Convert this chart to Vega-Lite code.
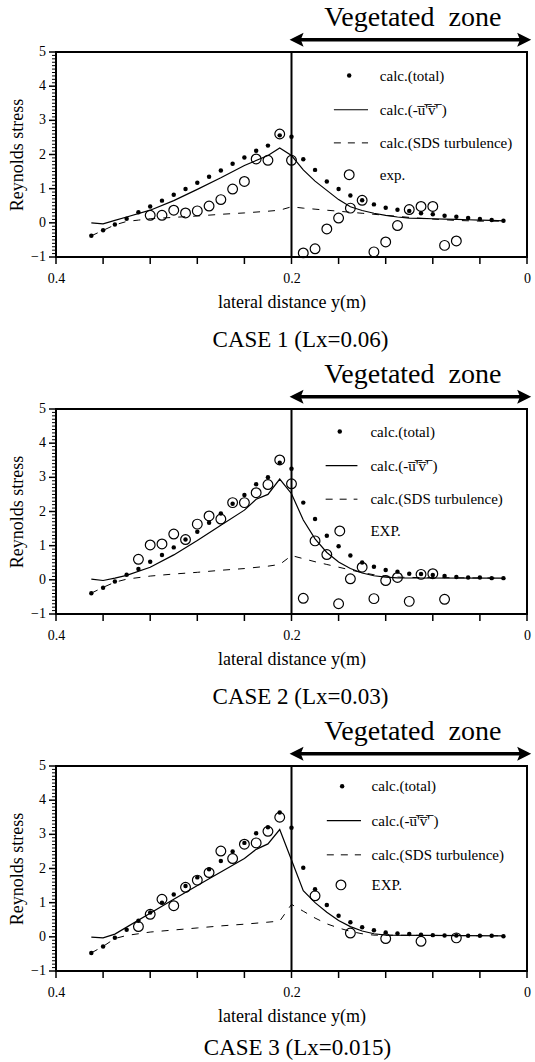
{
  "$schema": "https://vega.github.io/schema/vega-lite/v6.json",
  "padding": {"left": 7, "top": 3, "right": 0, "bottom": 0},
  "spacing": 7,
  "config": {
    "font": "Liberation Serif",
    "view": {"stroke": "black", "strokeWidth": 2},
    "axis": {"domain": false, "grid": false, "ticks": false, "labelFont": "Liberation Serif", "titleFont": "Liberation Serif", "labelColor": "black", "titleColor": "black", "labelFontSize": 14, "titleFontSize": 18, "titleFontWeight": "normal", "labelOverlap": false, "labelFlush": false},
    "title": {"font": "Liberation Serif", "fontSize": 23, "fontWeight": "normal", "color": "black"},
    "text": {"font": "Liberation Serif", "color": "black"}
  },
  "datasets": {
    "vline": [{"dist":0.2,"stress":-1,"stress2":5}],
    "arrow": [{"dist":0.194,"dist2":0.004,"stress":5.36}],
    "heads": [{"dist":0.1957,"stress":5.36,"dir":"left"},{"dist":0.0024,"stress":5.36,"dir":"right"}],
    "zone": [{"dist":0.097,"stress":5.75,"label":"Vegetated\u00a0 zone"}],
    "xticks": [{"dist":0.4,"stress":-1},{"dist":0.36,"stress":-1},{"dist":0.32,"stress":-1},{"dist":0.28,"stress":-1},{"dist":0.24,"stress":-1},{"dist":0.2,"stress":-1},{"dist":0.16,"stress":-1},{"dist":0.12,"stress":-1},{"dist":0.08,"stress":-1},{"dist":0.04,"stress":-1},{"dist":0,"stress":-1}],
    "ymajor": [{"dist":0.4,"stress":-1},{"dist":0.4,"stress":0},{"dist":0.4,"stress":1},{"dist":0.4,"stress":2},{"dist":0.4,"stress":3},{"dist":0.4,"stress":4},{"dist":0.4,"stress":5}],
    "yminor": [{"dist":0.4,"stress":-0.9},{"dist":0.4,"stress":-0.8},{"dist":0.4,"stress":-0.7},{"dist":0.4,"stress":-0.6},{"dist":0.4,"stress":-0.5},{"dist":0.4,"stress":-0.4},{"dist":0.4,"stress":-0.3},{"dist":0.4,"stress":-0.2},{"dist":0.4,"stress":-0.1},{"dist":0.4,"stress":0.1},{"dist":0.4,"stress":0.2},{"dist":0.4,"stress":0.3},{"dist":0.4,"stress":0.4},{"dist":0.4,"stress":0.5},{"dist":0.4,"stress":0.6},{"dist":0.4,"stress":0.7},{"dist":0.4,"stress":0.8},{"dist":0.4,"stress":0.9},{"dist":0.4,"stress":1.1},{"dist":0.4,"stress":1.2},{"dist":0.4,"stress":1.3},{"dist":0.4,"stress":1.4},{"dist":0.4,"stress":1.5},{"dist":0.4,"stress":1.6},{"dist":0.4,"stress":1.7},{"dist":0.4,"stress":1.8},{"dist":0.4,"stress":1.9},{"dist":0.4,"stress":2.1},{"dist":0.4,"stress":2.2},{"dist":0.4,"stress":2.3},{"dist":0.4,"stress":2.4},{"dist":0.4,"stress":2.5},{"dist":0.4,"stress":2.6},{"dist":0.4,"stress":2.7},{"dist":0.4,"stress":2.8},{"dist":0.4,"stress":2.9},{"dist":0.4,"stress":3.1},{"dist":0.4,"stress":3.2},{"dist":0.4,"stress":3.3},{"dist":0.4,"stress":3.4},{"dist":0.4,"stress":3.5},{"dist":0.4,"stress":3.6},{"dist":0.4,"stress":3.7},{"dist":0.4,"stress":3.8},{"dist":0.4,"stress":3.9},{"dist":0.4,"stress":4.1},{"dist":0.4,"stress":4.2},{"dist":0.4,"stress":4.3},{"dist":0.4,"stress":4.4},{"dist":0.4,"stress":4.5},{"dist":0.4,"stress":4.6},{"dist":0.4,"stress":4.7},{"dist":0.4,"stress":4.8},{"dist":0.4,"stress":4.9}],
    "leg1": [{"item":"dot","dist":0.151,"stress":4.31},{"item":"solid","dist":0.164,"dist2":0.135,"stress":3.31},{"item":"dash","dist":0.164,"dist2":0.135,"stress":2.34},{"item":"circ","dist":0.151,"stress":1.41},{"item":"text","dist":0.125,"stress":4.31,"label":"calc.(total)"},{"item":"text","dist":0.125,"stress":3.31,"label":"calc.(-u\u0305'\u0305v\u0305'\u0305 )"},{"item":"text","dist":0.125,"stress":2.34,"label":"calc.(SDS turbulence)"},{"item":"text","dist":0.125,"stress":1.41,"label":"exp."}],
    "leg2": [{"item":"dot","dist":0.159,"stress":4.34},{"item":"solid","dist":0.171,"dist2":0.144,"stress":3.34},{"item":"dash","dist":0.171,"dist2":0.144,"stress":2.36},{"item":"circ","dist":0.159,"stress":1.43},{"item":"text","dist":0.133,"stress":4.34,"label":"calc.(total)"},{"item":"text","dist":0.133,"stress":3.34,"label":"calc.(-u\u0305'\u0305v\u0305'\u0305 )"},{"item":"text","dist":0.133,"stress":2.36,"label":"calc.(SDS turbulence)"},{"item":"text","dist":0.133,"stress":1.43,"label":"EXP."}],
    "leg3": [{"item":"dot","dist":0.157,"stress":4.41},{"item":"solid","dist":0.170,"dist2":0.141,"stress":3.40},{"item":"dash","dist":0.170,"dist2":0.141,"stress":2.40},{"item":"circ","dist":0.158,"stress":1.52},{"item":"text","dist":0.132,"stress":4.41,"label":"calc.(total)"},{"item":"text","dist":0.132,"stress":3.40,"label":"calc.(-u\u0305'\u0305v\u0305'\u0305 )"},{"item":"text","dist":0.132,"stress":2.40,"label":"calc.(SDS turbulence)"},{"item":"text","dist":0.132,"stress":1.52,"label":"EXP."}],
    "t1": [{"dist":0.37,"stress":-0.38},{"dist":0.36,"stress":-0.22},{"dist":0.35,"stress":-0.05},{"dist":0.34,"stress":0.12},{"dist":0.33,"stress":0.31},{"dist":0.32,"stress":0.48},{"dist":0.31,"stress":0.65},{"dist":0.30,"stress":0.82},{"dist":0.29,"stress":0.99},{"dist":0.28,"stress":1.17},{"dist":0.27,"stress":1.35},{"dist":0.26,"stress":1.53},{"dist":0.25,"stress":1.73},{"dist":0.24,"stress":1.91},{"dist":0.23,"stress":2.11},{"dist":0.22,"stress":2.26},{"dist":0.21,"stress":2.56},{"dist":0.20,"stress":2.52},{"dist":0.19,"stress":1.86},{"dist":0.18,"stress":1.55},{"dist":0.17,"stress":1.21},{"dist":0.16,"stress":0.99},{"dist":0.15,"stress":0.80},{"dist":0.14,"stress":0.66},{"dist":0.13,"stress":0.54},{"dist":0.12,"stress":0.44},{"dist":0.11,"stress":0.38},{"dist":0.10,"stress":0.35},{"dist":0.09,"stress":0.28},{"dist":0.08,"stress":0.25},{"dist":0.07,"stress":0.21},{"dist":0.06,"stress":0.18},{"dist":0.05,"stress":0.14},{"dist":0.04,"stress":0.11},{"dist":0.03,"stress":0.08},{"dist":0.02,"stress":0.06}],
    "u1": [{"dist":0.37,"stress":0.00},{"dist":0.36,"stress":-0.03},{"dist":0.35,"stress":0.07},{"dist":0.34,"stress":0.17},{"dist":0.32,"stress":0.37},{"dist":0.30,"stress":0.65},{"dist":0.28,"stress":0.98},{"dist":0.26,"stress":1.32},{"dist":0.24,"stress":1.68},{"dist":0.22,"stress":1.97},{"dist":0.21,"stress":2.19},{"dist":0.20,"stress":1.97},{"dist":0.19,"stress":1.55},{"dist":0.18,"stress":1.22},{"dist":0.17,"stress":0.95},{"dist":0.16,"stress":0.68},{"dist":0.15,"stress":0.47},{"dist":0.14,"stress":0.36},{"dist":0.13,"stress":0.28},{"dist":0.12,"stress":0.22},{"dist":0.11,"stress":0.17},{"dist":0.10,"stress":0.14},{"dist":0.09,"stress":0.13},{"dist":0.08,"stress":0.12},{"dist":0.07,"stress":0.11},{"dist":0.06,"stress":0.10},{"dist":0.05,"stress":0.09},{"dist":0.04,"stress":0.08},{"dist":0.03,"stress":0.07},{"dist":0.02,"stress":0.06}],
    "s1": [{"dist":0.37,"stress":-0.38},{"dist":0.36,"stress":-0.22},{"dist":0.35,"stress":-0.06},{"dist":0.34,"stress":0.04},{"dist":0.33,"stress":0.08},{"dist":0.32,"stress":0.12},{"dist":0.30,"stress":0.16},{"dist":0.28,"stress":0.20},{"dist":0.26,"stress":0.25},{"dist":0.24,"stress":0.29},{"dist":0.22,"stress":0.34},{"dist":0.21,"stress":0.37},{"dist":0.20,"stress":0.47},{"dist":0.19,"stress":0.43},{"dist":0.18,"stress":0.40},{"dist":0.17,"stress":0.37},{"dist":0.16,"stress":0.34},{"dist":0.15,"stress":0.31},{"dist":0.14,"stress":0.28},{"dist":0.13,"stress":0.25},{"dist":0.12,"stress":0.22},{"dist":0.11,"stress":0.19},{"dist":0.10,"stress":0.16},{"dist":0.09,"stress":0.13},{"dist":0.08,"stress":0.11},{"dist":0.07,"stress":0.09},{"dist":0.06,"stress":0.07},{"dist":0.05,"stress":0.06},{"dist":0.04,"stress":0.05},{"dist":0.02,"stress":0.05}],
    "e1": [{"dist":0.32,"stress":0.22},{"dist":0.31,"stress":0.22},{"dist":0.30,"stress":0.37},{"dist":0.29,"stress":0.29},{"dist":0.28,"stress":0.35},{"dist":0.27,"stress":0.49},{"dist":0.26,"stress":0.68},{"dist":0.25,"stress":0.99},{"dist":0.24,"stress":1.21},{"dist":0.23,"stress":1.87},{"dist":0.22,"stress":1.83},{"dist":0.21,"stress":2.60},{"dist":0.20,"stress":1.83},{"dist":0.19,"stress":-0.88},{"dist":0.18,"stress":-0.76},{"dist":0.17,"stress":-0.18},{"dist":0.16,"stress":0.14},{"dist":0.15,"stress":0.43},{"dist":0.14,"stress":0.66},{"dist":0.13,"stress":-0.85},{"dist":0.12,"stress":-0.56},{"dist":0.11,"stress":-0.08},{"dist":0.10,"stress":0.39},{"dist":0.09,"stress":0.48},{"dist":0.08,"stress":0.48},{"dist":0.07,"stress":-0.66},{"dist":0.06,"stress":-0.53}],
    "t2": [{"dist":0.37,"stress":-0.39},{"dist":0.36,"stress":-0.23},{"dist":0.35,"stress":-0.05},{"dist":0.34,"stress":0.15},{"dist":0.33,"stress":0.32},{"dist":0.32,"stress":0.53},{"dist":0.31,"stress":0.73},{"dist":0.30,"stress":0.95},{"dist":0.29,"stress":1.18},{"dist":0.28,"stress":1.41},{"dist":0.27,"stress":1.67},{"dist":0.26,"stress":1.94},{"dist":0.25,"stress":2.23},{"dist":0.24,"stress":2.48},{"dist":0.23,"stress":2.80},{"dist":0.22,"stress":3.00},{"dist":0.21,"stress":3.43},{"dist":0.20,"stress":3.25},{"dist":0.19,"stress":2.26},{"dist":0.18,"stress":1.78},{"dist":0.17,"stress":1.29},{"dist":0.16,"stress":0.98},{"dist":0.15,"stress":0.71},{"dist":0.14,"stress":0.51},{"dist":0.13,"stress":0.38},{"dist":0.12,"stress":0.29},{"dist":0.11,"stress":0.24},{"dist":0.10,"stress":0.18},{"dist":0.09,"stress":0.17},{"dist":0.08,"stress":0.14},{"dist":0.07,"stress":0.11},{"dist":0.06,"stress":0.08},{"dist":0.05,"stress":0.07},{"dist":0.04,"stress":0.07},{"dist":0.03,"stress":0.05},{"dist":0.02,"stress":0.05}],
    "u2": [{"dist":0.37,"stress":0.02},{"dist":0.36,"stress":-0.02},{"dist":0.35,"stress":0.05},{"dist":0.34,"stress":0.13},{"dist":0.32,"stress":0.37},{"dist":0.30,"stress":0.73},{"dist":0.28,"stress":1.15},{"dist":0.26,"stress":1.60},{"dist":0.24,"stress":2.04},{"dist":0.23,"stress":2.36},{"dist":0.22,"stress":2.50},{"dist":0.21,"stress":2.95},{"dist":0.20,"stress":2.52},{"dist":0.19,"stress":1.75},{"dist":0.18,"stress":1.20},{"dist":0.17,"stress":0.80},{"dist":0.16,"stress":0.52},{"dist":0.15,"stress":0.33},{"dist":0.14,"stress":0.20},{"dist":0.13,"stress":0.12},{"dist":0.12,"stress":0.08},{"dist":0.11,"stress":0.06},{"dist":0.02,"stress":0.05}],
    "s2": [{"dist":0.37,"stress":-0.39},{"dist":0.36,"stress":-0.22},{"dist":0.35,"stress":-0.07},{"dist":0.34,"stress":0.02},{"dist":0.32,"stress":0.11},{"dist":0.30,"stress":0.17},{"dist":0.28,"stress":0.22},{"dist":0.26,"stress":0.28},{"dist":0.24,"stress":0.33},{"dist":0.22,"stress":0.40},{"dist":0.21,"stress":0.45},{"dist":0.20,"stress":0.71},{"dist":0.19,"stress":0.62},{"dist":0.18,"stress":0.53},{"dist":0.17,"stress":0.45},{"dist":0.16,"stress":0.37},{"dist":0.15,"stress":0.29},{"dist":0.14,"stress":0.21},{"dist":0.13,"stress":0.15},{"dist":0.12,"stress":0.11},{"dist":0.11,"stress":0.08},{"dist":0.10,"stress":0.07},{"dist":0.02,"stress":0.05}],
    "e2": [{"dist":0.33,"stress":0.60},{"dist":0.32,"stress":1.02},{"dist":0.31,"stress":1.05},{"dist":0.30,"stress":1.34},{"dist":0.29,"stress":1.18},{"dist":0.28,"stress":1.63},{"dist":0.27,"stress":1.87},{"dist":0.26,"stress":1.78},{"dist":0.25,"stress":2.26},{"dist":0.24,"stress":2.26},{"dist":0.23,"stress":2.55},{"dist":0.22,"stress":2.79},{"dist":0.21,"stress":3.51},{"dist":0.20,"stress":2.81},{"dist":0.19,"stress":-0.54},{"dist":0.18,"stress":1.14},{"dist":0.17,"stress":0.74},{"dist":0.16,"stress":-0.70},{"dist":0.15,"stress":0.03},{"dist":0.14,"stress":0.37},{"dist":0.13,"stress":-0.55},{"dist":0.12,"stress":-0.02},{"dist":0.11,"stress":0.07},{"dist":0.10,"stress":-0.63},{"dist":0.09,"stress":0.16},{"dist":0.08,"stress":0.18},{"dist":0.07,"stress":-0.57}],
    "t3": [{"dist":0.37,"stress":-0.47},{"dist":0.36,"stress":-0.28},{"dist":0.35,"stress":-0.03},{"dist":0.34,"stress":0.21},{"dist":0.33,"stress":0.47},{"dist":0.32,"stress":0.71},{"dist":0.31,"stress":1.00},{"dist":0.30,"stress":1.24},{"dist":0.29,"stress":1.49},{"dist":0.28,"stress":1.74},{"dist":0.27,"stress":1.98},{"dist":0.26,"stress":2.22},{"dist":0.25,"stress":2.50},{"dist":0.24,"stress":2.75},{"dist":0.23,"stress":3.03},{"dist":0.22,"stress":3.21},{"dist":0.21,"stress":3.64},{"dist":0.20,"stress":3.19},{"dist":0.19,"stress":2.02},{"dist":0.18,"stress":1.39},{"dist":0.17,"stress":0.93},{"dist":0.16,"stress":0.62},{"dist":0.15,"stress":0.43},{"dist":0.14,"stress":0.28},{"dist":0.13,"stress":0.19},{"dist":0.12,"stress":0.13},{"dist":0.11,"stress":0.10},{"dist":0.10,"stress":0.08},{"dist":0.09,"stress":0.06},{"dist":0.08,"stress":0.05},{"dist":0.07,"stress":0.04},{"dist":0.06,"stress":0.04},{"dist":0.05,"stress":0.03},{"dist":0.04,"stress":0.03},{"dist":0.03,"stress":0.03},{"dist":0.02,"stress":0.02}],
    "u3": [{"dist":0.37,"stress":-0.01},{"dist":0.36,"stress":-0.03},{"dist":0.35,"stress":0.08},{"dist":0.30,"stress":1.10},{"dist":0.27,"stress":1.70},{"dist":0.24,"stress":2.29},{"dist":0.23,"stress":2.56},{"dist":0.22,"stress":2.72},{"dist":0.21,"stress":3.14},{"dist":0.20,"stress":2.25},{"dist":0.19,"stress":1.35},{"dist":0.18,"stress":1.00},{"dist":0.17,"stress":0.72},{"dist":0.16,"stress":0.48},{"dist":0.15,"stress":0.30},{"dist":0.14,"stress":0.17},{"dist":0.13,"stress":0.09},{"dist":0.12,"stress":0.05},{"dist":0.02,"stress":0.03}],
    "s3": [{"dist":0.37,"stress":-0.47},{"dist":0.36,"stress":-0.28},{"dist":0.35,"stress":-0.05},{"dist":0.34,"stress":0.04},{"dist":0.32,"stress":0.14},{"dist":0.30,"stress":0.20},{"dist":0.28,"stress":0.26},{"dist":0.26,"stress":0.32},{"dist":0.24,"stress":0.37},{"dist":0.22,"stress":0.43},{"dist":0.21,"stress":0.46},{"dist":0.20,"stress":0.95},{"dist":0.19,"stress":0.75},{"dist":0.18,"stress":0.55},{"dist":0.17,"stress":0.38},{"dist":0.16,"stress":0.26},{"dist":0.15,"stress":0.16},{"dist":0.14,"stress":0.09},{"dist":0.13,"stress":0.05},{"dist":0.02,"stress":0.03}],
    "e3": [{"dist":0.33,"stress":0.30},{"dist":0.32,"stress":0.66},{"dist":0.31,"stress":1.10},{"dist":0.30,"stress":0.91},{"dist":0.29,"stress":1.45},{"dist":0.28,"stress":1.66},{"dist":0.27,"stress":1.88},{"dist":0.26,"stress":2.51},{"dist":0.25,"stress":2.29},{"dist":0.24,"stress":2.71},{"dist":0.23,"stress":2.75},{"dist":0.22,"stress":3.09},{"dist":0.21,"stress":3.50},{"dist":0.18,"stress":1.20},{"dist":0.15,"stress":0.11},{"dist":0.12,"stress":-0.05},{"dist":0.09,"stress":-0.13},{"dist":0.06,"stress":-0.03}]
  },
  "vconcat": [
    {
      "width": 471, "height": 205,
      "title": {"text": "CASE 1 (Lx=0.06)", "orient": "bottom", "frame": "group", "anchor": "middle", "offset": 18, "dx": 9},
      "layer": [
        {"data": {"name": "vline"}, "mark": {"type": "rule", "color": "black", "strokeWidth": 2},
          "encoding": {
            "x": {"field": "dist", "type": "quantitative", "scale": {"domain": [0, 0.4], "reverse": true, "nice": false, "zero": false},
              "axis": {"title": "lateral distance y(m)", "values": [0.4,0.2,0], "labelExpr": "abs(datum.value-0.4)<0.001 ? '0.4' : abs(datum.value-0.2)<0.001 ? '0.2' : '0'", "ticks": false, "labelPadding": 14, "titlePadding": 8, "labelOverlap": false, "labelFlush": false, "labelFont": "Liberation Serif", "labelFontSize": 14, "labelColor": "black"}},
            "y": {"field": "stress", "type": "quantitative", "scale": {"domain": [-1, 5], "nice": false, "zero": false},
              "axis": {"title": "Reynolds stress", "values": [-1,0,1,2,3,4,5], "labels": false, "ticks": false, "titlePadding": 30}},
            "y2": {"field": "stress2"}
          }},
        {"data": {"name": "xticks"}, "mark": {"type": "rule", "color": "black", "strokeWidth": 1.5, "y2Offset": 7}, "encoding": {"x": {"field": "dist", "type": "quantitative"}, "y": {"field": "stress", "type": "quantitative"}, "y2": {"field": "stress"}}},
        {"data": {"name": "ymajor"}, "mark": {"type": "rule", "color": "black", "strokeWidth": 1.5, "x2Offset": -7}, "encoding": {"x": {"field": "dist", "type": "quantitative"}, "x2": {"field": "dist"}, "y": {"field": "stress", "type": "quantitative"}}},
        {"data": {"name": "yminor"}, "mark": {"type": "rule", "color": "black", "strokeWidth": 1, "x2Offset": -4}, "encoding": {"x": {"field": "dist", "type": "quantitative"}, "x2": {"field": "dist"}, "y": {"field": "stress", "type": "quantitative"}}},
        {"data": {"name": "ymajor"}, "mark": {"type": "text", "align": "right", "baseline": "middle", "dx": -10, "fontSize": 14, "font": "Liberation Serif"}, "encoding": {"x": {"field": "dist", "type": "quantitative"}, "y": {"field": "stress", "type": "quantitative"}, "text": {"field": "stress", "type": "quantitative", "format": "d"}}},
        {"data": {"name": "s1"}, "mark": {"type": "line", "color": "black", "strokeWidth": 1, "strokeDash": [7, 8]}, "encoding": {"x": {"field": "dist", "type": "quantitative"}, "y": {"field": "stress", "type": "quantitative"}}},
        {"data": {"name": "u1"}, "mark": {"type": "line", "color": "black", "strokeWidth": 1.2}, "encoding": {"x": {"field": "dist", "type": "quantitative"}, "y": {"field": "stress", "type": "quantitative"}}},
        {"data": {"name": "e1"}, "mark": {"type": "point", "shape": "circle", "filled": false, "color": "black", "size": 95, "strokeWidth": 1.2, "opacity": 1}, "encoding": {"x": {"field": "dist", "type": "quantitative"}, "y": {"field": "stress", "type": "quantitative"}}},
        {"data": {"name": "t1"}, "mark": {"type": "point", "shape": "circle", "filled": true, "color": "black", "size": 20, "opacity": 1}, "encoding": {"x": {"field": "dist", "type": "quantitative"}, "y": {"field": "stress", "type": "quantitative"}}},
        {"data": {"name": "leg1"}, "transform": [{"filter": "datum.item === 'dot'"}], "mark": {"type": "point", "shape": "circle", "filled": true, "color": "black", "size": 20, "opacity": 1}, "encoding": {"x": {"field": "dist", "type": "quantitative"}, "y": {"field": "stress", "type": "quantitative"}}},
        {"data": {"name": "leg1"}, "transform": [{"filter": "datum.item === 'circ'"}], "mark": {"type": "point", "shape": "circle", "filled": false, "color": "black", "size": 95, "strokeWidth": 1.2, "opacity": 1}, "encoding": {"x": {"field": "dist", "type": "quantitative"}, "y": {"field": "stress", "type": "quantitative"}}},
        {"data": {"name": "leg1"}, "transform": [{"filter": "datum.item === 'solid'"}], "mark": {"type": "rule", "color": "black", "strokeWidth": 1.2}, "encoding": {"x": {"field": "dist", "type": "quantitative"}, "x2": {"field": "dist2"}, "y": {"field": "stress", "type": "quantitative"}}},
        {"data": {"name": "leg1"}, "transform": [{"filter": "datum.item === 'dash'"}], "mark": {"type": "rule", "color": "black", "strokeWidth": 1, "strokeDash": [7, 7]}, "encoding": {"x": {"field": "dist", "type": "quantitative"}, "x2": {"field": "dist2"}, "y": {"field": "stress", "type": "quantitative"}}},
        {"data": {"name": "leg1"}, "transform": [{"filter": "datum.item === 'text'"}], "mark": {"type": "text", "align": "left", "baseline": "middle", "fontSize": 15, "font": "Liberation Serif"}, "encoding": {"x": {"field": "dist", "type": "quantitative"}, "y": {"field": "stress", "type": "quantitative"}, "text": {"field": "label"}}},
        {"data": {"name": "zone"}, "mark": {"type": "text", "align": "center", "baseline": "alphabetic", "fontSize": 28, "font": "Liberation Serif"}, "encoding": {"x": {"field": "dist", "type": "quantitative"}, "y": {"field": "stress", "type": "quantitative"}, "text": {"field": "label"}}},
        {"data": {"name": "arrow"}, "mark": {"type": "rule", "color": "black", "strokeWidth": 3.5}, "encoding": {"x": {"field": "dist", "type": "quantitative"}, "x2": {"field": "dist2"}, "y": {"field": "stress", "type": "quantitative"}}},
        {"data": {"name": "heads"}, "mark": {"type": "point", "filled": true, "color": "black", "size": 196, "opacity": 1}, "encoding": {"x": {"field": "dist", "type": "quantitative"}, "y": {"field": "stress", "type": "quantitative"}, "shape": {"field": "dir", "type": "nominal", "scale": {"domain": ["left", "right"], "range": ["M-1,0L1,-1L0.6,0L1,1Z", "M1,0L-1,-1L-0.6,0L-1,1Z"]}, "legend": null}}}
      ]
    },
    {
      "width": 471, "height": 205,
      "title": {"text": "CASE 2 (Lx=0.03)", "orient": "bottom", "frame": "group", "anchor": "middle", "offset": 18, "dx": 9},
      "layer": [
        {"data": {"name": "vline"}, "mark": {"type": "rule", "color": "black", "strokeWidth": 2},
          "encoding": {
            "x": {"field": "dist", "type": "quantitative", "scale": {"domain": [0, 0.4], "reverse": true, "nice": false, "zero": false},
              "axis": {"title": "lateral distance y(m)", "values": [0.4,0.2,0], "labelExpr": "abs(datum.value-0.4)<0.001 ? '0.4' : abs(datum.value-0.2)<0.001 ? '0.2' : '0'", "ticks": false, "labelPadding": 14, "titlePadding": 8, "labelOverlap": false, "labelFlush": false, "labelFont": "Liberation Serif", "labelFontSize": 14, "labelColor": "black"}},
            "y": {"field": "stress", "type": "quantitative", "scale": {"domain": [-1, 5], "nice": false, "zero": false},
              "axis": {"title": "Reynolds stress", "values": [-1,0,1,2,3,4,5], "labels": false, "ticks": false, "titlePadding": 30}},
            "y2": {"field": "stress2"}
          }},
        {"data": {"name": "xticks"}, "mark": {"type": "rule", "color": "black", "strokeWidth": 1.5, "y2Offset": 7}, "encoding": {"x": {"field": "dist", "type": "quantitative"}, "y": {"field": "stress", "type": "quantitative"}, "y2": {"field": "stress"}}},
        {"data": {"name": "ymajor"}, "mark": {"type": "rule", "color": "black", "strokeWidth": 1.5, "x2Offset": -7}, "encoding": {"x": {"field": "dist", "type": "quantitative"}, "x2": {"field": "dist"}, "y": {"field": "stress", "type": "quantitative"}}},
        {"data": {"name": "yminor"}, "mark": {"type": "rule", "color": "black", "strokeWidth": 1, "x2Offset": -4}, "encoding": {"x": {"field": "dist", "type": "quantitative"}, "x2": {"field": "dist"}, "y": {"field": "stress", "type": "quantitative"}}},
        {"data": {"name": "ymajor"}, "mark": {"type": "text", "align": "right", "baseline": "middle", "dx": -10, "fontSize": 14, "font": "Liberation Serif"}, "encoding": {"x": {"field": "dist", "type": "quantitative"}, "y": {"field": "stress", "type": "quantitative"}, "text": {"field": "stress", "type": "quantitative", "format": "d"}}},
        {"data": {"name": "s2"}, "mark": {"type": "line", "color": "black", "strokeWidth": 1, "strokeDash": [7, 8]}, "encoding": {"x": {"field": "dist", "type": "quantitative"}, "y": {"field": "stress", "type": "quantitative"}}},
        {"data": {"name": "u2"}, "mark": {"type": "line", "color": "black", "strokeWidth": 1.2}, "encoding": {"x": {"field": "dist", "type": "quantitative"}, "y": {"field": "stress", "type": "quantitative"}}},
        {"data": {"name": "e2"}, "mark": {"type": "point", "shape": "circle", "filled": false, "color": "black", "size": 95, "strokeWidth": 1.2, "opacity": 1}, "encoding": {"x": {"field": "dist", "type": "quantitative"}, "y": {"field": "stress", "type": "quantitative"}}},
        {"data": {"name": "t2"}, "mark": {"type": "point", "shape": "circle", "filled": true, "color": "black", "size": 20, "opacity": 1}, "encoding": {"x": {"field": "dist", "type": "quantitative"}, "y": {"field": "stress", "type": "quantitative"}}},
        {"data": {"name": "leg2"}, "transform": [{"filter": "datum.item === 'dot'"}], "mark": {"type": "point", "shape": "circle", "filled": true, "color": "black", "size": 20, "opacity": 1}, "encoding": {"x": {"field": "dist", "type": "quantitative"}, "y": {"field": "stress", "type": "quantitative"}}},
        {"data": {"name": "leg2"}, "transform": [{"filter": "datum.item === 'circ'"}], "mark": {"type": "point", "shape": "circle", "filled": false, "color": "black", "size": 95, "strokeWidth": 1.2, "opacity": 1}, "encoding": {"x": {"field": "dist", "type": "quantitative"}, "y": {"field": "stress", "type": "quantitative"}}},
        {"data": {"name": "leg2"}, "transform": [{"filter": "datum.item === 'solid'"}], "mark": {"type": "rule", "color": "black", "strokeWidth": 1.2}, "encoding": {"x": {"field": "dist", "type": "quantitative"}, "x2": {"field": "dist2"}, "y": {"field": "stress", "type": "quantitative"}}},
        {"data": {"name": "leg2"}, "transform": [{"filter": "datum.item === 'dash'"}], "mark": {"type": "rule", "color": "black", "strokeWidth": 1, "strokeDash": [7, 7]}, "encoding": {"x": {"field": "dist", "type": "quantitative"}, "x2": {"field": "dist2"}, "y": {"field": "stress", "type": "quantitative"}}},
        {"data": {"name": "leg2"}, "transform": [{"filter": "datum.item === 'text'"}], "mark": {"type": "text", "align": "left", "baseline": "middle", "fontSize": 15, "font": "Liberation Serif"}, "encoding": {"x": {"field": "dist", "type": "quantitative"}, "y": {"field": "stress", "type": "quantitative"}, "text": {"field": "label"}}},
        {"data": {"name": "zone"}, "mark": {"type": "text", "align": "center", "baseline": "alphabetic", "fontSize": 28, "font": "Liberation Serif"}, "encoding": {"x": {"field": "dist", "type": "quantitative"}, "y": {"field": "stress", "type": "quantitative"}, "text": {"field": "label"}}},
        {"data": {"name": "arrow"}, "mark": {"type": "rule", "color": "black", "strokeWidth": 3.5}, "encoding": {"x": {"field": "dist", "type": "quantitative"}, "x2": {"field": "dist2"}, "y": {"field": "stress", "type": "quantitative"}}},
        {"data": {"name": "heads"}, "mark": {"type": "point", "filled": true, "color": "black", "size": 196, "opacity": 1}, "encoding": {"x": {"field": "dist", "type": "quantitative"}, "y": {"field": "stress", "type": "quantitative"}, "shape": {"field": "dir", "type": "nominal", "scale": {"domain": ["left", "right"], "range": ["M-1,0L1,-1L0.6,0L1,1Z", "M1,0L-1,-1L-0.6,0L-1,1Z"]}, "legend": null}}}
      ]
    },
    {
      "width": 471, "height": 205,
      "title": {"text": "CASE 3 (Lx=0.015)", "orient": "bottom", "frame": "group", "anchor": "middle", "offset": 12, "dx": 6},
      "layer": [
        {"data": {"name": "vline"}, "mark": {"type": "rule", "color": "black", "strokeWidth": 2},
          "encoding": {
            "x": {"field": "dist", "type": "quantitative", "scale": {"domain": [0, 0.4], "reverse": true, "nice": false, "zero": false},
              "axis": {"title": "lateral distance y(m)", "values": [0.4,0.2,0], "labelExpr": "abs(datum.value-0.4)<0.001 ? '0.4' : abs(datum.value-0.2)<0.001 ? '0.2' : '0'", "ticks": false, "labelPadding": 14, "titlePadding": 8, "labelOverlap": false, "labelFlush": false, "labelFont": "Liberation Serif", "labelFontSize": 14, "labelColor": "black"}},
            "y": {"field": "stress", "type": "quantitative", "scale": {"domain": [-1, 5], "nice": false, "zero": false},
              "axis": {"title": "Reynolds stress", "values": [-1,0,1,2,3,4,5], "labels": false, "ticks": false, "titlePadding": 30}},
            "y2": {"field": "stress2"}
          }},
        {"data": {"name": "xticks"}, "mark": {"type": "rule", "color": "black", "strokeWidth": 1.5, "y2Offset": 7}, "encoding": {"x": {"field": "dist", "type": "quantitative"}, "y": {"field": "stress", "type": "quantitative"}, "y2": {"field": "stress"}}},
        {"data": {"name": "ymajor"}, "mark": {"type": "rule", "color": "black", "strokeWidth": 1.5, "x2Offset": -7}, "encoding": {"x": {"field": "dist", "type": "quantitative"}, "x2": {"field": "dist"}, "y": {"field": "stress", "type": "quantitative"}}},
        {"data": {"name": "yminor"}, "mark": {"type": "rule", "color": "black", "strokeWidth": 1, "x2Offset": -4}, "encoding": {"x": {"field": "dist", "type": "quantitative"}, "x2": {"field": "dist"}, "y": {"field": "stress", "type": "quantitative"}}},
        {"data": {"name": "ymajor"}, "mark": {"type": "text", "align": "right", "baseline": "middle", "dx": -10, "fontSize": 14, "font": "Liberation Serif"}, "encoding": {"x": {"field": "dist", "type": "quantitative"}, "y": {"field": "stress", "type": "quantitative"}, "text": {"field": "stress", "type": "quantitative", "format": "d"}}},
        {"data": {"name": "s3"}, "mark": {"type": "line", "color": "black", "strokeWidth": 1, "strokeDash": [7, 8]}, "encoding": {"x": {"field": "dist", "type": "quantitative"}, "y": {"field": "stress", "type": "quantitative"}}},
        {"data": {"name": "u3"}, "mark": {"type": "line", "color": "black", "strokeWidth": 1.2}, "encoding": {"x": {"field": "dist", "type": "quantitative"}, "y": {"field": "stress", "type": "quantitative"}}},
        {"data": {"name": "e3"}, "mark": {"type": "point", "shape": "circle", "filled": false, "color": "black", "size": 95, "strokeWidth": 1.2, "opacity": 1}, "encoding": {"x": {"field": "dist", "type": "quantitative"}, "y": {"field": "stress", "type": "quantitative"}}},
        {"data": {"name": "t3"}, "mark": {"type": "point", "shape": "circle", "filled": true, "color": "black", "size": 20, "opacity": 1}, "encoding": {"x": {"field": "dist", "type": "quantitative"}, "y": {"field": "stress", "type": "quantitative"}}},
        {"data": {"name": "leg3"}, "transform": [{"filter": "datum.item === 'dot'"}], "mark": {"type": "point", "shape": "circle", "filled": true, "color": "black", "size": 20, "opacity": 1}, "encoding": {"x": {"field": "dist", "type": "quantitative"}, "y": {"field": "stress", "type": "quantitative"}}},
        {"data": {"name": "leg3"}, "transform": [{"filter": "datum.item === 'circ'"}], "mark": {"type": "point", "shape": "circle", "filled": false, "color": "black", "size": 95, "strokeWidth": 1.2, "opacity": 1}, "encoding": {"x": {"field": "dist", "type": "quantitative"}, "y": {"field": "stress", "type": "quantitative"}}},
        {"data": {"name": "leg3"}, "transform": [{"filter": "datum.item === 'solid'"}], "mark": {"type": "rule", "color": "black", "strokeWidth": 1.2}, "encoding": {"x": {"field": "dist", "type": "quantitative"}, "x2": {"field": "dist2"}, "y": {"field": "stress", "type": "quantitative"}}},
        {"data": {"name": "leg3"}, "transform": [{"filter": "datum.item === 'dash'"}], "mark": {"type": "rule", "color": "black", "strokeWidth": 1, "strokeDash": [7, 7]}, "encoding": {"x": {"field": "dist", "type": "quantitative"}, "x2": {"field": "dist2"}, "y": {"field": "stress", "type": "quantitative"}}},
        {"data": {"name": "leg3"}, "transform": [{"filter": "datum.item === 'text'"}], "mark": {"type": "text", "align": "left", "baseline": "middle", "fontSize": 15, "font": "Liberation Serif"}, "encoding": {"x": {"field": "dist", "type": "quantitative"}, "y": {"field": "stress", "type": "quantitative"}, "text": {"field": "label"}}},
        {"data": {"name": "zone"}, "mark": {"type": "text", "align": "center", "baseline": "alphabetic", "fontSize": 28, "font": "Liberation Serif"}, "encoding": {"x": {"field": "dist", "type": "quantitative"}, "y": {"field": "stress", "type": "quantitative"}, "text": {"field": "label"}}},
        {"data": {"name": "arrow"}, "mark": {"type": "rule", "color": "black", "strokeWidth": 3.5}, "encoding": {"x": {"field": "dist", "type": "quantitative"}, "x2": {"field": "dist2"}, "y": {"field": "stress", "type": "quantitative"}}},
        {"data": {"name": "heads"}, "mark": {"type": "point", "filled": true, "color": "black", "size": 196, "opacity": 1}, "encoding": {"x": {"field": "dist", "type": "quantitative"}, "y": {"field": "stress", "type": "quantitative"}, "shape": {"field": "dir", "type": "nominal", "scale": {"domain": ["left", "right"], "range": ["M-1,0L1,-1L0.6,0L1,1Z", "M1,0L-1,-1L-0.6,0L-1,1Z"]}, "legend": null}}}
      ]
    }
  ]
}
